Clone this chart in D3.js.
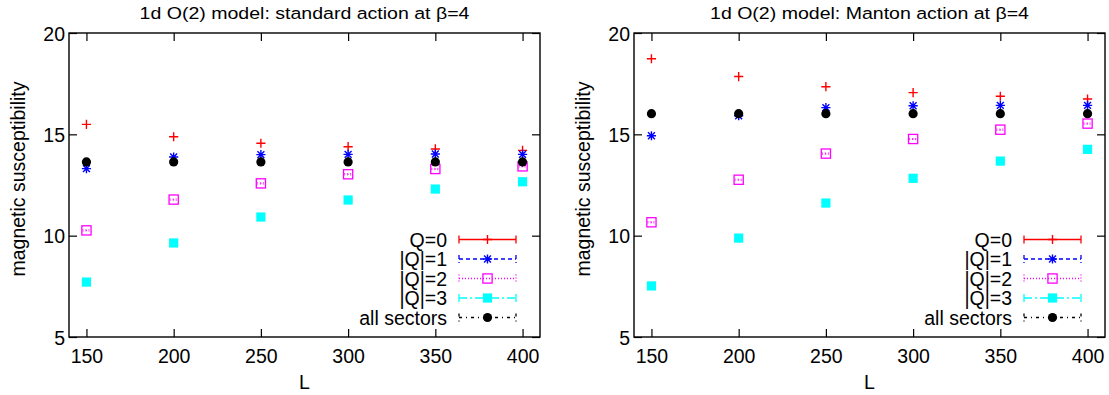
<!DOCTYPE html>
<html>
<head>
<meta charset="utf-8">
<script src="https://d3js.org/d3.v7.min.js"></script>
<style>
  html, body { margin: 0; padding: 0; background: #fff; }
  svg { display: block; }
  text { font-family: "Liberation Sans", Arial, Helvetica, sans-serif; fill: #000; }
</style>
</head>
<body>
<script>
// lattice sizes
const sizes = [150, 200, 250, 300, 350, 400];
const xTicks = [150, 200, 250, 300, 350, 400];
const yTicks = [5, 10, 15, 20];

// standard action
const stdQ0 = [15.49, 14.88, 14.56, 14.39, 14.28, 14.21];
const stdQ1 = [13.31, 13.88, 14.00, 14.01, 14.03, 14.01];
const stdQ2 = [10.26, 11.78, 12.58, 13.03, 13.29, 13.42];
const stdQ3 = [7.71, 9.64, 10.92, 11.76, 12.30, 12.66];
const stdAll = [13.64, 13.64, 13.64, 13.64, 13.64, 13.64];

// Manton action
const manQ0 = [18.73, 17.85, 17.35, 17.06, 16.88, 16.74];
const manQ1 = [14.93, 15.92, 16.32, 16.41, 16.43, 16.43];
const manQ2 = [10.66, 12.76, 14.05, 14.77, 15.23, 15.53];
const manQ3 = [7.52, 9.88, 11.61, 12.83, 13.68, 14.26];
const manAll = [16.02, 16.02, 16.02, 16.02, 16.02, 16.02];

// tiny error bars (only visible as the cap inside the |Q|=2 boxes)
const stdQ2err = [0.03, 0.03, 0.03, 0.03, 0.03, 0.03];
const manQ2err = [0.03, 0.03, 0.03, 0.03, 0.03, 0.03];

const seriesLabels = ["Q=0", "|Q|=1", "|Q|=2", "|Q|=3", "all sectors"];

const styles = [
  {color: "#ff0000", dash: null, marker: "plus"},
  {color: "#0000ff", dash: "4,3", marker: "star"},
  {color: "#ff00ff", dash: "1,2", marker: "box"},
  {color: "#00ffff", dash: "8,3,2,3", marker: "fbox"},
  {color: "#000000", dash: "3,4,1,4", marker: "circle"}
];

const panels = [
  {left: 69, title: "1d O(2) model: standard action at β=4",
   data: [stdQ0, stdQ1, stdQ2, stdQ3, stdAll], err: [null, null, stdQ2err, null, null]},
  {left: 634, title: "1d O(2) model: Manton action at β=4",
   data: [manQ0, manQ1, manQ2, manQ3, manAll], err: [null, null, manQ2err, null, null]}
];

const W = 1109, H = 395;
const plotW = 471, plotTop = 33, plotBottom = 337;

const svg = d3.select("body").append("svg").attr("width", W).attr("height", H);

function drawMarker(g, type, x, y, color) {
  const r = 4.6;
  if (type === "plus" || type === "star") {
    let d = `M${x - r},${y}H${x + r}M${x},${y - r}V${y + r}`;
    if (type === "star") {
      const k = r * 0.75;
      d += `M${x - k},${y - k}L${x + k},${y + k}M${x - k},${y + k}L${x + k},${y - k}`;
    }
    g.append("path").attr("d", d).attr("stroke", color).attr("stroke-width", 1.4).attr("fill", "none");
  } else if (type === "box") {
    g.append("rect").attr("x", x - r).attr("y", y - r).attr("width", 2 * r).attr("height", 2 * r)
      .attr("fill", "none").attr("stroke", color).attr("stroke-width", 1.3);
  } else if (type === "fbox") {
    g.append("rect").attr("x", x - r).attr("y", y - r).attr("width", 2 * r).attr("height", 2 * r)
      .attr("fill", color);
  } else {
    g.append("circle").attr("cx", x).attr("cy", y).attr("r", r).attr("fill", color);
  }
}

panels.forEach(p => {
  const x = d3.scaleLinear().domain([140, 410]).range([p.left, p.left + plotW]);
  const y = d3.scaleLinear().domain([5, 20]).range([plotBottom, plotTop]);
  const g = svg.append("g");

  // title
  g.append("text")
    .attr("transform", `translate(${p.left + plotW / 2},19) scale(1.15,1)`)
    .attr("text-anchor", "middle").style("font-size", "17px").text(p.title);

  // axes with inward ticks
  const tl = 8;
  const axB = g.append("g").attr("transform", `translate(0,${plotBottom})`)
    .call(d3.axisBottom(x).tickValues(xTicks).tickSize(-tl).tickPadding(12).tickFormat(d3.format("d")));
  const axT = g.append("g").attr("transform", `translate(0,${plotTop})`)
    .call(d3.axisTop(x).tickValues(xTicks).tickSize(-tl).tickFormat(""));
  const axL = g.append("g").attr("transform", `translate(${p.left},0)`)
    .call(d3.axisLeft(y).tickValues(yTicks).tickSize(-tl).tickPadding(4));
  const axR = g.append("g").attr("transform", `translate(${p.left + plotW},0)`)
    .call(d3.axisRight(y).tickValues(yTicks).tickSize(-tl).tickFormat(""));
  [axB, axT, axL, axR].forEach(a => {
    a.select(".domain").remove();
    a.selectAll("line").attr("stroke", "#000").attr("stroke-width", 1.2);
    a.selectAll("text").style("font-size", "19.5px").attr("font-family", null);
  });
  axB.selectAll("text").attr("dy", "0.71em");
  axL.selectAll("text").attr("dy", "0.36em");

  // frame
  g.append("rect").attr("x", p.left).attr("y", plotTop).attr("width", plotW).attr("height", plotBottom - plotTop)
    .attr("fill", "none").attr("stroke", "#000").attr("stroke-width", 1.4);

  // axis labels
  g.append("text").attr("x", p.left + plotW / 2).attr("y", 389)
    .attr("text-anchor", "middle").style("font-size", "19.5px").text("L");
  g.append("text")
    .attr("transform", `translate(${p.left - 44},${(plotTop + plotBottom) / 2 - 6}) rotate(-90)`)
    .attr("text-anchor", "middle").style("font-size", "19.5px").text("magnetic  susceptibility");

  // points
  const pts = g.append("g");
  p.data.forEach((vals, si) => {
    const st = styles[si];
    const errs = p.err[si];
    vals.forEach((v, i) => {
      const px = x(sizes[i]), py = y(v);
      if (errs) {
        const e = errs[i];
        pts.append("path")
          .attr("d", `M${px},${y(v - e)}V${y(v + e)}M${px - 4},${y(v - e)}H${px + 4}M${px - 4},${y(v + e)}H${px + 4}`)
          .attr("stroke", st.color).attr("stroke-width", 1).attr("stroke-dasharray", st.dash).attr("fill", "none");
      }
      drawMarker(pts, st.marker, px, py, st.color);
    });
  });

  // legend
  const right = p.left + plotW;
  const rowY = [239.5, 259, 278.5, 298, 317.5];
  const leg = g.append("g");
  seriesLabels.forEach((lab, i) => {
    const st = styles[i];
    const cy = rowY[i];
    leg.append("text").attr("x", right - 93).attr("y", cy + 7)
      .attr("text-anchor", "end").style("font-size", "19.5px").text(lab);
    const x0 = right - 81, x1 = right - 24;
    leg.append("path")
      .attr("d", `M${x0},${cy}H${x1}M${x0},${cy - 4}V${cy + 4}M${x1},${cy - 4}V${cy + 4}`)
      .attr("stroke", st.color).attr("stroke-width", 1.3).attr("stroke-dasharray", st.dash).attr("fill", "none");
    drawMarker(leg, st.marker, (x0 + x1) / 2, cy, st.color);
  });
});
</script>
</body>
</html>
